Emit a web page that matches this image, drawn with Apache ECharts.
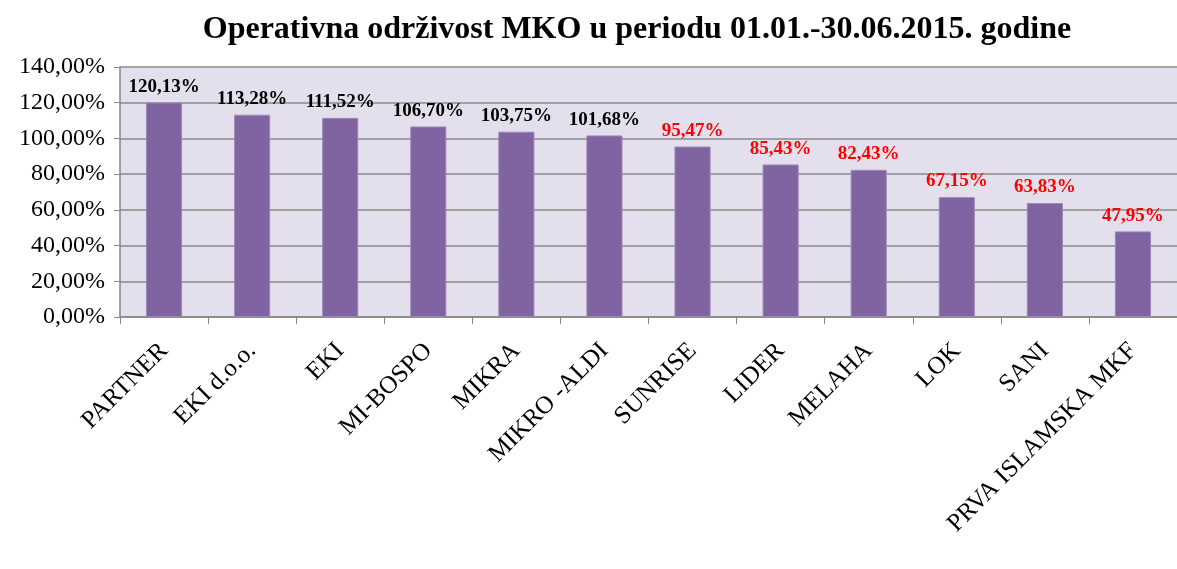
<!DOCTYPE html>
<html>
<head>
<meta charset="utf-8">
<script src="https://cdn.jsdelivr.net/npm/echarts@6/dist/echarts.min.js"></script>
<style>
  html, body { margin: 0; padding: 0; background: #fff; }
  #chart { width: 1177px; height: 569px; }
</style>
</head>
<body>
<div id="chart"></div>
<script>
const categories = ['PARTNER', 'EKI d.o.o.', 'EKI', 'MI-BOSPO', 'MIKRA', 'MIKRO -ALDI',
  'SUNRISE', 'LIDER', 'MELAHA', 'LOK', 'SANI', 'PRVA ISLAMSKA MKF']
const values = [120.13, 113.28, 111.52, 106.70, 103.75, 101.68, 95.47, 85.43, 82.43, 67.15, 63.83, 47.95]
const yTicks = [0, 20, 40, 60, 80, 100, 120, 140]

const fmt = (v, d) => v.toFixed(d).replace('.', ',') + '%'

const myChart = echarts.init(document.getElementById('chart'))
myChart.setOption({
  animation: false,
  title: {
    text: 'Operativna održivost MKO u periodu 01.01.-30.06.2015. godine',
    left: 632,
    textAlign: 'center',
    top: 9,
    textStyle: { fontFamily: 'Liberation Serif', fontSize: 32, fontWeight: 'bold', color: '#000' }
  },
  grid: {
    left: 120,
    top: 67,
    width: 1062,
    height: 250,
    show: true,
    backgroundColor: '#E4DFEC',
    borderWidth: 0
  },
  xAxis: {
    type: 'category',
    data: categories,
    axisLine: { lineStyle: { color: '#868686', width: 1.5 } },
    axisTick: { show: true, length: 7, lineStyle: { color: '#868686' } },
    axisLabel: {
      interval: 0,
      rotate: 45,
      margin: 30,
      fontFamily: 'Liberation Serif',
      fontSize: 25,
      color: '#000'
    }
  },
  yAxis: {
    type: 'value',
    min: yTicks[0],
    max: yTicks[yTicks.length - 1],
    interval: 20,
    axisLine: { show: true, lineStyle: { color: '#868686', width: 1.5 } },
    axisTick: { show: true, length: 6, lineStyle: { color: '#868686' } },
    splitLine: { lineStyle: { color: '#8a8a8a', width: 1.5 } },
    axisLabel: {
      margin: 15,
      fontFamily: 'Liberation Serif',
      fontSize: 24,
      color: '#000',
      formatter: v => fmt(v, 2)
    }
  },
  series: [
    {
      type: 'bar',
      data: values.map(v => ({
        value: v,
        label: { color: v < 100 ? '#FF0000' : '#000' }
      })),
      barWidth: '41%',
      itemStyle: { color: '#8064A2', borderColor: '#9c88b8', borderWidth: 1 },
      label: {
        show: true,
        position: 'top',
        distance: 6,
        fontFamily: 'Liberation Serif',
        fontSize: 19,
        fontWeight: 'bold',
        formatter: p => fmt(p.value, 2)
      }
    }
  ]
})
</script>
</body>
</html>
